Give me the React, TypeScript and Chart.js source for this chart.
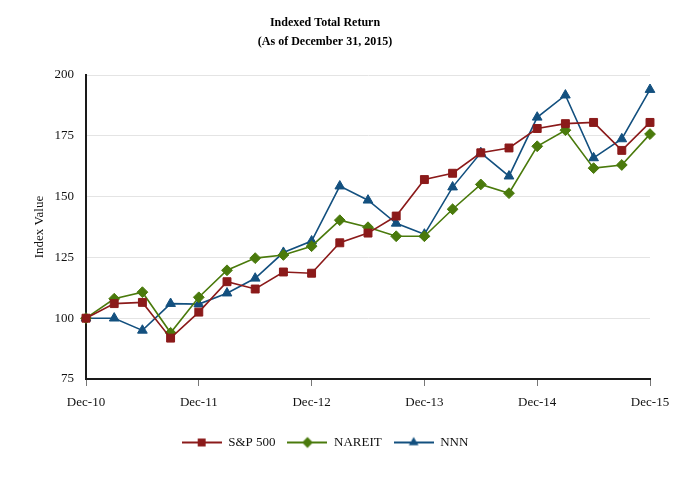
import React, { useEffect, useRef } from 'react';
import { Chart, registerables } from 'chart.js';

Chart.register(...registerables);

const quarters = [
  'Dec-10', 'Mar-11', 'Jun-11', 'Sep-11', 'Dec-11', 'Mar-12', 'Jun-12', 'Sep-12',
  'Dec-12', 'Mar-13', 'Jun-13', 'Sep-13', 'Dec-13', 'Mar-14', 'Jun-14', 'Sep-14',
  'Dec-14', 'Mar-15', 'Jun-15', 'Sep-15', 'Dec-15',
];
const sp500 = [100, 106, 106.5, 91.8, 102.5, 115, 112, 119, 118.5, 131, 135, 142, 157, 159.6, 168, 170, 178, 180, 180.5, 169, 180.5];
const nareit = [100, 108, 110.7, 94, 108.6, 119.7, 124.7, 126, 129.6, 140.3, 137.4, 133.7, 133.7, 144.8, 155, 151.4, 170.7, 177.3, 161.7, 163, 175.7];
const nnn = [100, 100, 95, 106, 105.8, 110.3, 116.4, 127, 131.7, 154.3, 148.5, 139, 134.5, 153.9, 168, 158.4, 182.6, 191.7, 165.9, 173.7, 194];
const seriesNames = ['S&P 500', 'NAREIT', 'NNN'];
const seriesColors = ['#8b1a1a', '#4a7a0c', '#13507f'];
const seriesStyles = ['rect', 'rectRot', 'triangle'];
const seriesRadius = [5.6, 5.4, 5.6];
const titleLines = ['Indexed Total Return', '(As of December 31, 2015)'];
const yAxisTitle = 'Index Value';

const FONT = "'Liberation Serif', 'Times New Roman', serif";

function legendIcon(color: string, style: string, radius: number): HTMLCanvasElement {
  const c = document.createElement('canvas');
  c.width = 40;
  c.height = 14;
  const ctx = c.getContext('2d')!;
  ctx.strokeStyle = color;
  ctx.lineWidth = 2;
  ctx.beginPath();
  ctx.moveTo(0, 7);
  ctx.lineTo(40, 7);
  ctx.stroke();
  ctx.fillStyle = color;
  ctx.beginPath();
  if (style === 'rect') {
    const s = radius * Math.SQRT1_2;
    ctx.rect(20 - s, 7 - s, 2 * s, 2 * s);
  } else if (style === 'rectRot') {
    ctx.moveTo(20, 7 - radius);
    ctx.lineTo(20 + radius, 7);
    ctx.lineTo(20, 7 + radius);
    ctx.lineTo(20 - radius, 7);
    ctx.closePath();
  } else {
    ctx.moveTo(20, 7 - radius);
    ctx.lineTo(20 + radius * 0.866, 7 + radius * 0.5);
    ctx.lineTo(20 - radius * 0.866, 7 + radius * 0.5);
    ctx.closePath();
  }
  ctx.fill();
  return c;
}

export default function App() {
  const ref = useRef<HTMLCanvasElement>(null);

  useEffect(() => {
    document.body.style.margin = '0';
    const values = [sp500, nareit, nnn];
    const chart = new Chart(ref.current!, {
      type: 'line',
      data: {
        labels: quarters,
        datasets: values.map((v, i) => ({
          label: seriesNames[i],
          data: v,
          borderColor: seriesColors[i],
          backgroundColor: seriesColors[i],
          pointBackgroundColor: seriesColors[i],
          pointBorderColor: seriesColors[i],
          pointStyle: seriesStyles[i] as any,
          pointRadius: seriesRadius[i],
          pointBorderWidth: 1,
          borderWidth: 1.6,
          tension: 0,
          fill: false,
        })),
      },
      options: {
        animation: false,
        responsive: false,
        maintainAspectRatio: false,
        layout: { padding: { left: 0, right: 32, top: 0, bottom: 21 } },
        plugins: {
          title: {
            display: true,
            text: titleLines,
            color: '#000',
            font: { family: FONT, size: 12, weight: 'bold', lineHeight: 1.6 },
            padding: { top: 13, bottom: 23.6 },
          },
          legend: {
            position: 'bottom',
            labels: {
              usePointStyle: true,
              pointStyleWidth: 40,
              padding: 12,
              color: '#111',
              font: { family: FONT, size: 13 },
              generateLabels: (c: any) =>
                c.data.datasets.map((d: any, i: number) => ({
                  text: d.label,
                  fillStyle: seriesColors[i],
                  strokeStyle: seriesColors[i],
                  lineWidth: 0,
                  pointStyle: legendIcon(seriesColors[i], seriesStyles[i], seriesRadius[i]),
                  datasetIndex: i,
                  hidden: false,
                  fontColor: '#111',
                })),
            },
          },
          tooltip: { enabled: false },
        },
        scales: {
          x: {
            type: 'category',
            offset: false,
            afterFit: (s: any) => { s.height = 45; },
            grid: {
              drawOnChartArea: false,
              drawTicks: true,
              tickLength: 7,
              color: (ctx: any) => (ctx.index % 4 === 0 ? '#777' : 'rgba(0,0,0,0)'),
            },
            border: { color: '#1a1a1a', width: 2 },
            ticks: {
              autoSkip: false,
              maxRotation: 0,
              padding: 9,
              color: '#111',
              font: { family: FONT, size: 13 },
              callback: (_v: any, i: number) => (i % 4 === 0 ? quarters[i] : ''),
            },
          },
          y: {
            min: 75,
            max: 200,
            afterFit: (s: any) => { s.width = 86; },
            grid: { color: '#e4e4e4', drawTicks: false, lineWidth: 1 },
            border: { color: '#1a1a1a', width: 2 },
            ticks: {
              stepSize: 25,
              padding: 12,
              color: '#111',
              font: { family: FONT, size: 13 },
            },
            title: {
              display: true,
              text: yAxisTitle,
              color: '#111',
              font: { family: FONT, size: 13 },
              padding: { top: 32, bottom: 0 },
            },
          },
        },
      },
    });
    return () => chart.destroy();
  }, []);

  return (
    <div style={{ width: 682, height: 480 }}>
      <canvas ref={ref} width={682} height={480} style={{ display: 'block' }} />
    </div>
  );
}
